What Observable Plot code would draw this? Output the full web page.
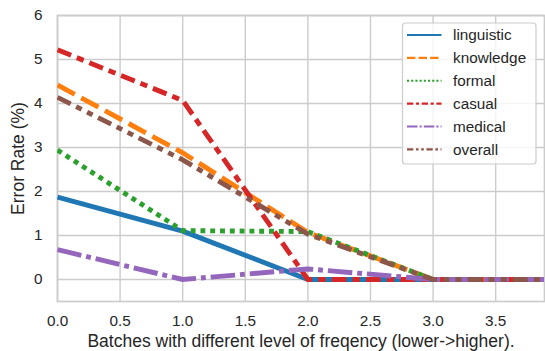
<!DOCTYPE html>
<html><head><meta charset="utf-8">
<script src="https://cdn.jsdelivr.net/npm/d3@7"></script>
<script src="https://cdn.jsdelivr.net/npm/@observablehq/plot@0.6"></script>
<style>
body{margin:0;background:#fff;}
#chart{position:relative;width:545px;height:351px;}
</style>
</head><body><div id="chart"></div>
<script>
// ---- data ----
const batches = [0, 1, 2, 3, 4];
const seriesNames = ["linguistic", "knowledge", "formal", "casual", "medical", "overall"];
const linguistic = [1.87, 1.10, 0, 0, 0];
const knowledge  = [4.42, 2.88, 1.07, 0, 0];
const formal     = [2.94, 1.11, 1.09, 0, 0];
const casual     = [5.22, 4.07, 0, 0, 0];
const medical    = [0.68, 0.00, 0.24, 0, 0];
const overall    = [4.14, 2.72, 1.03, 0, 0];
const xTicks = [0, 0.5, 1, 1.5, 2, 2.5, 3, 3.5];
const yTicks = [0, 1, 2, 3, 4, 5, 6];
const xLabel = "Batches with different level of freqency (lower->higher).";
const yLabel = "Error Rate (%)";

// ---- styles ----
const values = [linguistic, knowledge, formal, casual, medical, overall];
const colors = ["#1f77b4", "#ff7f0e", "#2ca02c", "#d62728", "#9467bd", "#8c564b"];
const dashUnits = [null, [4, 1.5], [1, 1], [3, 1.25, 1.5, 1.25], [5, 1, 1, 1], [3, 1.25, 1.25, 1.25, 1.25, 1.25]];
const lw = 4.9, legendLw = 2.1;
const textColor = "#262626";
const gridColor = "#cccccc";
const font = "'Liberation Sans', Arial, sans-serif";
const tickFont = 15.3, labelFont = 17.5;
const dashStr = (i, w) => dashUnits[i] ? dashUnits[i].map(d => d * w).join(",") : null;

const marks = [
  Plot.gridX(xTicks, {stroke: gridColor, strokeOpacity: 1, strokeWidth: 1.4}),
  Plot.gridY(yTicks, {stroke: gridColor, strokeOpacity: 1, strokeWidth: 1.4}),
  Plot.frame({stroke: gridColor, strokeWidth: 1.7}),
  Plot.axisX(xTicks, {tickSize: 0, tickPadding: 14, tickFormat: d => d.toFixed(1), fontSize: tickFont, fill: textColor,
    label: xLabel, labelAnchor: "center", labelOffset: 45.5, labelArrow: "none"}),
  Plot.axisY(yTicks, {tickSize: 0, tickPadding: 15, tickFormat: d => String(d), fontSize: tickFont, fill: textColor,
    label: yLabel, labelAnchor: "center", labelOffset: 46, labelArrow: "none"})
];
seriesNames.forEach((name, i) => {
  const data = batches.map((b, j) => ({batch: b, rate: values[i][j], series: name}));
  const opts = {x: "batch", y: "rate", stroke: colors[i], strokeWidth: lw, strokeLinejoin: "round",
    strokeLinecap: "butt", clip: true};
  const d = dashStr(i, lw);
  if (d) opts.strokeDasharray = d;
  marks.push(Plot.line(data, opts));
});

const chart = Plot.plot({
  width: 545, height: 351,
  marginLeft: 57, marginRight: 1, marginTop: 15, marginBottom: 50,
  style: {fontFamily: font, fontSize: tickFont + "px", color: textColor, background: "#fff", overflow: "visible"},
  x: {domain: [0, 3.89]},
  y: {domain: [-0.5, 6]},
  marks
});
document.getElementById("chart").appendChild(chart);

// ---- enlarge axis titles ----
const svg = d3.select(chart);
svg.selectAll("g[aria-label='x-axis label'], g[aria-label='y-axis label']")
  .attr("font-size", labelFont).selectAll("text").attr("font-size", labelFont);

// ---- legend ----
const lg = svg.append("g").attr("font-family", font).attr("font-size", tickFont)
  .attr("fill", textColor).attr("text-anchor", "start");
const lx = 402.5, ly = 23, lwBox = 133.5, lhBox = 141, rowH = 22.87, row0 = 35;
lg.append("rect").attr("x", lx).attr("y", ly).attr("width", lwBox).attr("height", lhBox)
  .attr("rx", 3).attr("fill", "#fff").attr("fill-opacity", 0.8).attr("stroke", gridColor).attr("stroke-width", 1.2);
seriesNames.forEach((name, i) => {
  const y = row0 + i * rowH;
  const ln = lg.append("line").attr("x1", lx + 4.5).attr("x2", lx + 39).attr("y1", y).attr("y2", y)
    .attr("stroke", colors[i]).attr("stroke-width", legendLw);
  const d = dashStr(i, legendLw);
  if (d) ln.attr("stroke-dasharray", d);
  lg.append("text").attr("x", lx + 50.5).attr("y", y).attr("dy", "0.35em").attr("text-anchor", "start").text(name);
});
</script>
</body></html>
